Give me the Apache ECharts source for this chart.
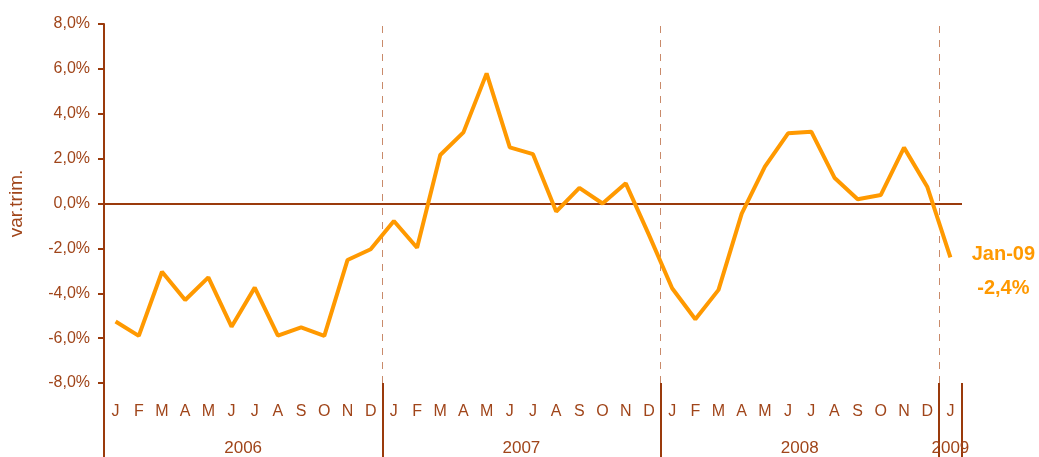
<!DOCTYPE html>
<html>
<head>
<meta charset="utf-8">
<style>
    html, body { margin: 0; padding: 0; background: #fff; }
    #chart { width: 1039px; height: 457px; }
</style>
</head>
<body>
<div id="chart"></div>
<script src="https://cdn.jsdelivr.net/npm/echarts@6/dist/echarts.min.js"></script>
<script>
    // data
    var months = ['J','F','M','A','M','J','J','A','S','O','N','D',
                  'J','F','M','A','M','J','J','A','S','O','N','D',
                  'J','F','M','A','M','J','J','A','S','O','N','D',
                  'J'];
    var years = ['2006', '2007', '2008', '2009'];
    var yearCenters = [6, 18, 30, 36.5];
    var yearBreaks = [12, 24, 36];
    var varTrim = [-5.26, -5.9, -3.04, -4.3, -3.29, -5.49, -3.75, -5.89, -5.52, -5.9, -2.52, -2.04,
                   -0.78, -1.97, 2.16, 3.17, 5.8, 2.5, 2.2, -0.36, 0.7, 0.0, 0.9, -1.4,
                   -3.78, -5.16, -3.85, -0.45, 1.64, 3.13, 3.2, 1.15, 0.19, 0.38, 2.49, 0.75,
                   -2.4];
    var lastName = 'Jan-09';

    var brown = '#9a3a0c';
    var txt = '#a0451a';
    var orange = '#ff9900';

    function pct(v) {
        return v.toFixed(1).replace('.', ',') + '%';
    }

    var myChart = echarts.init(document.getElementById('chart'));
    var option = {
        animation: false,
        textStyle: { fontFamily: 'Liberation Sans, Arial, sans-serif' },
        grid: { left: 104, right: 77, top: 24, bottom: 74, outerBoundsMode: 'none', containLabel: false },
        xAxis: [
            {
                type: 'category',
                position: 'bottom',
                data: months,
                boundaryGap: true,
                axisLine: { show: false, onZero: false },
                axisTick: { show: false },
                axisLabel: { interval: 0, color: txt, fontSize: 16, margin: 21 }
            },
            {
                type: 'value',
                position: 'bottom',
                min: 0,
                max: months.length,
                axisLine: { show: false, onZero: false },
                splitLine: { show: false },
                axisTick: {
                    customValues: [0].concat(yearBreaks, [months.length]),
                    length: 74,
                    lineStyle: { color: brown, width: 2 }
                },
                axisLabel: {
                    customValues: yearCenters,
                    color: txt,
                    fontSize: 17,
                    margin: 57,
                    formatter: function (v) {
                        return years[yearCenters.indexOf(v)];
                    }
                }
            }
        ],
        yAxis: {
            type: 'value',
            min: -8,
            max: 8,
            interval: 2,
            name: 'var.trim.',
            nameLocation: 'middle',
            nameGap: 78,
            nameTextStyle: { color: txt, fontSize: 19 },
            axisLine: { show: true, lineStyle: { color: brown, width: 2 } },
            axisTick: { show: true, length: 6, lineStyle: { color: brown, width: 2 } },
            splitLine: { show: false },
            axisLabel: { color: txt, fontSize: 16, margin: 14, formatter: pct }
        },
        series: [
            {
                type: 'line',
                xAxisIndex: 1,
                data: [],
                markLine: {
                    silent: true,
                    symbol: 'none',
                    label: { show: false },
                    lineStyle: { color: '#c98a6a', type: [7, 7], width: 1 },
                    data: yearBreaks.map(function (b) { return { xAxis: b }; })
                }
            },
            {
                type: 'line',
                xAxisIndex: 0,
                data: varTrim,
                showSymbol: false,
                lineStyle: { color: orange, width: 4 },
                itemStyle: { color: orange },
                z: 5,
                markLine: {
                    silent: true,
                    symbol: 'none',
                    label: { show: false },
                    lineStyle: { color: brown, type: 'solid', width: 2 },
                    data: [{ yAxis: 0 }]
                },
                endLabel: {
                    show: true,
                    formatter: function (p) {
                        return lastName + '\n' + pct(p.value);
                    },
                    color: orange,
                    fontWeight: 'bold',
                    fontSize: 20,
                    lineHeight: 34,
                    align: 'center',
                    distance: 53,
                    offset: [0, 14]
                }
            }
        ]
    };

    myChart.setOption(option);
</script>
</body>
</html>
